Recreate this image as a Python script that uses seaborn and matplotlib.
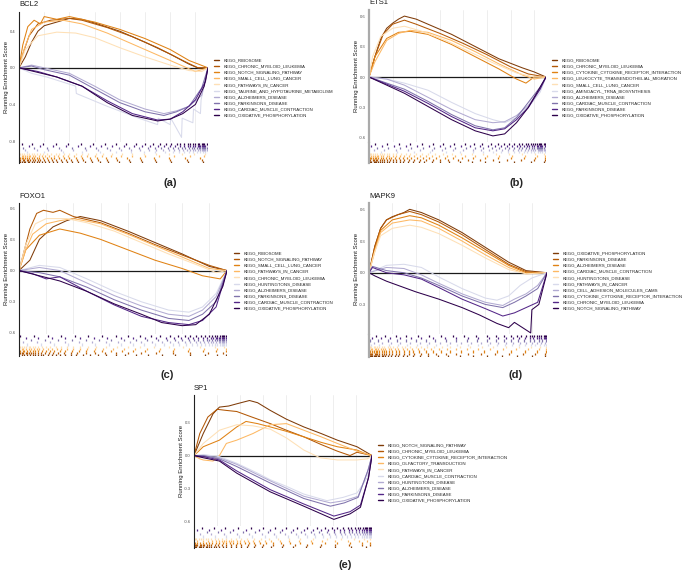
import matplotlib
matplotlib.use("Agg")
import matplotlib.pyplot as plt
from matplotlib.lines import Line2D
import seaborn as sns
import pandas as pd

sns.set_theme(style="white")
plt.rcParams['font.family'] = ['Liberation Sans', 'DejaVu Sans']

PALETTE = ["#7F3B08", "#B35806", "#E08214", "#FDB863", "#FEE0B6",
           "#D8DAEB", "#B2ABD2", "#8073AC", "#542788", "#2D004B"]
HIT_UNIT = 100  # hit positions are given in hundreds of ranked genes

# ---------------- (a) BCL2 ----------------
A_GENE = "BCL2"
A_N = 15000
A_SETS = ["KEGG_RIBOSOME", "KEGG_CHRONIC_MYELOID_LEUKEMIA", "KEGG_NOTCH_SIGNALING_PATHWAY",
          "KEGG_SMALL_CELL_LUNG_CANCER", "KEGG_PATHWAYS_IN_CANCER",
          "KEGG_TAURINE_AND_HYPOTAURINE_METABOLISM", "KEGG_ALZHEIMERS_DISEASE",
          "KEGG_PARKINSONS_DISEASE", "KEGG_CARDIAC_MUSCLE_CONTRACTION",
          "KEGG_OXIDATIVE_PHOSPHORYLATION"]
A_CURVES = [
    [(0,0),(500,0.12),(1000,0.28),(1500,0.40),(2000,0.46),(3000,0.50),(4000,0.54),(5000,0.53),(6000,0.49),(8000,0.40),(10000,0.28),(12000,0.15),(13500,0.04),(14200,0.0),(15000,0)],
    [(0,0),(300,0.15),(800,0.35),(1500,0.48),(2500,0.52),(4000,0.54),(5000,0.52),(7000,0.44),(9000,0.34),(11000,0.22),(13000,0.08),(14200,0.0),(15000,0)],
    [(0,0),(300,0.25),(700,0.45),(1200,0.52),(1700,0.48),(2000,0.56),(3000,0.53),(4000,0.56),(6000,0.50),(8000,0.42),(10000,0.32),(12000,0.20),(13500,0.08),(15000,0)],
    [(0,0),(400,0.2),(1000,0.42),(2000,0.5),(3500,0.52),(5000,0.48),(7000,0.38),(9000,0.26),(11000,0.14),(13000,0.02),(14000,-0.04),(15000,0)],
    [(0,0),(500,0.2),(1500,0.35),(3000,0.39),(4500,0.38),(6000,0.33),(8000,0.22),(10000,0.12),(12000,0.03),(13500,-0.03),(14500,-0.04),(15000,0)],
    [(0,0),(1000,-0.06),(2200,-0.1),(4500,-0.2),(4550,-0.28),(7000,-0.42),(9500,-0.55),(11000,-0.62),(11050,-0.55),(12000,-0.62),(12050,-0.55),(12900,-0.76),(12950,-0.55),(13800,-0.6),(13850,-0.45),(14400,-0.5),(14450,-0.35),(15000,0)],
    [(0,0),(1000,0.03),(2000,0.0),(4000,-0.06),(6000,-0.2),(8000,-0.35),(10000,-0.45),(11500,-0.5),(12500,-0.47),(13500,-0.42),(14500,-0.3),(15000,0)],
    [(0,0),(1000,0.02),(2000,-0.02),(4000,-0.08),(6000,-0.23),(8000,-0.38),(10000,-0.48),(11500,-0.52),(12500,-0.48),(13500,-0.42),(14500,-0.22),(15000,0)],
    [(0,0),(1500,-0.04),(3000,-0.1),(5000,-0.2),(7000,-0.36),(9000,-0.5),(11000,-0.57),(12000,-0.56),(13000,-0.48),(14000,-0.35),(14800,-0.15),(15000,0)],
    [(0,0),(1500,-0.05),(3000,-0.1),(5000,-0.2),(7000,-0.38),(9000,-0.52),(11000,-0.58),(12000,-0.56),(13000,-0.5),(14000,-0.4),(14700,-0.2),(15000,0)],
]
A_HITS = [
    [1,2,4,5,7,8,10,12,14,16,18,21,24,27,30,34,38,42,47,52,58,64,71,79,88,98,109,121,134,146],
    [0,1,3,4,6,7,9,11,13,15,17,20,23,26,29,33,37,41,46,51,57,63,70,78,87,97,108,120,133,145],
    [0,1,2,3,5,6,8,10,12,14,16,19,22,25,28,32,36,40,45,50,56,62,69,77,86,96,107,119,132,144],
    [0,2,3,5,6,8,9,11,13,16,18,21,24,28,31,35,39,44,49,54,60,66,73,81,90,100,111,123,136,147],
    [1,2,4,6,8,10,12,14,17,19,22,25,29,32,36,40,45,50,55,61,67,74,82,90,99,109,119,129,139,148],
    [6,20,35,50,64,77,89,99,108,116,122,127,131,135,138,141,144,146,148,150],
    [5,14,23,33,43,53,63,72,81,89,96,103,109,114,119,123,127,130,133,136,138,140,142,144,145,146,147,148,149,150],
    [3,12,22,32,42,52,61,70,79,87,95,102,108,113,118,122,126,129,132,135,137,139,141,143,144,145,146,147,148,149],
    [8,17,27,37,47,56,65,74,83,91,98,104,110,115,120,124,128,131,134,136,138,140,142,143,144,145,146,147,148,150],
    [2,10,19,29,39,49,59,68,77,85,93,100,106,112,117,121,125,128,131,134,136,138,140,142,143,145,146,147,149,150],
]
A_YTICKS = [-0.8, -0.4, 0.0, 0.4]

# ---------------- (b) ETS1 ----------------
B_GENE = "ETS1"
B_N = 15000
B_SETS = ["KEGG_RIBOSOME", "KEGG_CHRONIC_MYELOID_LEUKEMIA",
          "KEGG_CYTOKINE_CYTOKINE_RECEPTOR_INTERACTION",
          "KEGG_LEUKOCYTE_TRANSENDOTHELIAL_MIGRATION", "KEGG_SMALL_CELL_LUNG_CANCER",
          "KEGG_AMINOACYL_TRNA_BIOSYNTHESIS", "KEGG_ALZHEIMERS_DISEASE",
          "KEGG_CARDIAC_MUSCLE_CONTRACTION", "KEGG_PARKINSONS_DISEASE",
          "KEGG_OXIDATIVE_PHOSPHORYLATION"]
B_CURVES = [
    [(0,0),(500,0.2),(1000,0.38),(1500,0.48),(2000,0.53),(2500,0.57),(3000,0.60),(4000,0.57),(5000,0.52),(7000,0.42),(9000,0.30),(11000,0.18),(13000,0.09),(14000,0.05),(15000,0)],
    [(0,0),(500,0.2),(1200,0.42),(2000,0.52),(3000,0.56),(4000,0.52),(6000,0.43),(8000,0.33),(10000,0.22),(12000,0.1),(13500,0.03),(15000,0)],
    [(0,0),(500,0.2),(1500,0.38),(2500,0.44),(3500,0.45),(5000,0.42),(7000,0.32),(9000,0.20),(11000,0.08),(12500,-0.02),(13300,-0.06),(14000,0.0),(15000,0)],
    [(0,0),(500,0.15),(1500,0.36),(2500,0.43),(3500,0.46),(5000,0.44),(7000,0.36),(9000,0.25),(11000,0.13),(13000,0.02),(14000,-0.02),(15000,0)],
    [(0,0),(300,0.2),(1000,0.4),(2000,0.48),(3000,0.5),(4500,0.45),(6500,0.36),(8500,0.25),(10500,0.14),(12500,0.04),(14000,0.0),(15000,0)],
    [(0,0),(1500,-0.02),(3000,-0.06),(5000,-0.13),(7000,-0.25),(9000,-0.36),(10500,-0.42),(11500,-0.45),(12500,-0.4),(13500,-0.3),(14500,-0.15),(15000,0)],
    [(0,0),(1500,-0.02),(3000,-0.08),(5000,-0.2),(7000,-0.32),(9000,-0.42),(10500,-0.45),(11500,-0.44),(12500,-0.38),(13500,-0.28),(14500,-0.12),(15000,0)],
    [(0,0),(1500,-0.06),(3000,-0.12),(5000,-0.24),(7000,-0.37),(9000,-0.48),(10500,-0.52),(11500,-0.5),(12500,-0.4),(13500,-0.25),(14500,-0.1),(15000,0)],
    [(0,0),(1500,-0.07),(3000,-0.14),(5000,-0.26),(7000,-0.39),(9000,-0.5),(10500,-0.53),(11500,-0.51),(12500,-0.42),(13500,-0.3),(14500,-0.12),(15000,0)],
    [(0,0),(1500,-0.08),(3000,-0.16),(5000,-0.29),(7000,-0.42),(9000,-0.53),(10500,-0.58),(11500,-0.56),(12500,-0.45),(13500,-0.3),(14500,-0.1),(15000,0)],
]
B_HITS = [
    [0,1,2,4,5,6,8,9,11,13,15,17,20,23,26,29,33,37,42,47,53,60,68,77,87,98,110,123,137,148],
    [0,1,3,4,6,7,9,11,13,15,18,20,23,26,30,34,38,43,48,54,60,67,75,84,94,105,117,129,140,149],
    [1,2,3,5,6,8,10,12,14,17,19,22,25,29,32,36,41,46,51,57,64,71,79,88,98,109,120,131,141,149],
    [0,2,3,5,7,8,10,12,15,17,20,23,26,30,34,38,43,48,53,59,66,73,81,90,100,110,121,132,142,149],
    [0,1,2,3,5,7,9,11,13,15,17,20,23,27,31,35,40,45,50,56,63,70,78,87,97,108,119,130,141,148],
    [10,24,38,52,65,77,88,97,105,112,118,123,127,131,134,137,140,143,145,147,149],
    [4,13,23,33,43,53,62,71,80,88,95,102,108,113,118,122,126,129,132,135,137,139,141,143,144,145,146,147,148,149],
    [7,16,26,36,46,55,64,73,82,90,97,104,110,115,119,123,127,130,133,136,138,140,142,143,144,145,146,147,148,150],
    [2,11,21,31,41,51,60,69,78,86,94,101,107,112,117,121,125,128,131,134,136,138,140,142,143,145,146,147,149,150],
    [5,15,25,35,45,54,63,72,81,89,96,103,109,114,119,123,127,130,133,135,137,139,141,142,144,145,146,148,149,150],
]
B_YTICKS = [-0.6, -0.3, 0.0, 0.3, 0.6]

# ---------------- (c) FOXO1 ----------------
C_GENE = "FOXO1"
C_N = 15300
C_SETS = ["KEGG_RIBOSOME", "KEGG_NOTCH_SIGNALING_PATHWAY", "KEGG_SMALL_CELL_LUNG_CANCER",
          "KEGG_PATHWAYS_IN_CANCER", "KEGG_CHRONIC_MYELOID_LEUKEMIA",
          "KEGG_HUNTINGTONS_DISEASE", "KEGG_ALZHEIMERS_DISEASE", "KEGG_PARKINSONS_DISEASE",
          "KEGG_CARDIAC_MUSCLE_CONTRACTION", "KEGG_OXIDATIVE_PHOSPHORYLATION"]
C_CURVES = [
    [(0,0),(800,0.1),(1500,0.3),(2500,0.42),(3500,0.48),(4500,0.52),(6000,0.48),(8000,0.38),(10000,0.27),(12000,0.16),(14000,0.04),(15300,0)],
    [(0,0),(300,0.15),(800,0.4),(1300,0.55),(1800,0.58),(2500,0.56),(3000,0.58),(4000,0.52),(6000,0.46),(8000,0.36),(10000,0.25),(12000,0.15),(14000,0.05),(15300,0)],
    [(0,0),(500,0.2),(1500,0.34),(3000,0.4),(4500,0.36),(6000,0.3),(8000,0.2),(10000,0.1),(12000,0.02),(13500,-0.05),(14800,-0.08),(15300,0)],
    [(0,0),(500,0.2),(1000,0.35),(2000,0.45),(3000,0.48),(4000,0.5),(6000,0.45),(8000,0.35),(10000,0.24),(12000,0.13),(14000,0.02),(15300,0)],
    [(0,0),(500,0.25),(1200,0.45),(2000,0.5),(3500,0.5),(5000,0.46),(7000,0.38),(9000,0.27),(11000,0.16),(13000,0.06),(14500,-0.02),(15300,0)],
    [(0,0),(1500,0.05),(3000,0.03),(5000,-0.08),(7000,-0.2),(9000,-0.3),(11000,-0.38),(12500,-0.4),(13500,-0.35),(14500,-0.22),(15300,0)],
    [(0,0),(1500,0.03),(3000,0.0),(5000,-0.12),(7000,-0.24),(9000,-0.34),(11000,-0.42),(12500,-0.44),(13500,-0.38),(14500,-0.25),(15300,0)],
    [(0,0),(1500,-0.02),(3000,-0.06),(5000,-0.16),(7000,-0.28),(9000,-0.38),(11000,-0.46),(12500,-0.48),(13500,-0.42),(14500,-0.3),(15300,0)],
    [(0,0),(1000,-0.03),(2000,-0.08),(3000,-0.06),(5000,-0.2),(7000,-0.33),(9000,-0.44),(11000,-0.5),(12500,-0.52),(13500,-0.48),(14500,-0.35),(15300,0)],
    [(0,0),(1500,-0.05),(3000,-0.1),(5000,-0.2),(7000,-0.32),(9000,-0.42),(10500,-0.5),(12000,-0.53),(13000,-0.52),(14000,-0.42),(15000,-0.15),(15300,0)],
]
C_HITS = [
    [2,4,6,8,10,12,14,16,18,21,24,27,30,34,38,42,47,52,58,64,71,78,86,95,105,115,126,137,146,152],
    [0,1,2,3,5,6,7,9,10,12,14,16,19,22,25,29,33,38,43,49,56,63,71,80,90,101,113,126,139,150],
    [0,1,3,4,6,8,10,12,14,17,20,23,26,30,34,39,44,49,55,61,68,76,84,93,103,113,124,135,145,152],
    [0,2,3,5,7,9,11,13,15,18,21,24,28,31,35,40,45,50,56,62,69,77,85,94,104,114,125,136,146,152],
    [0,1,2,4,5,7,8,10,12,14,17,20,23,27,31,35,40,45,51,57,64,72,80,89,99,110,121,133,144,151],
    [6,16,26,36,46,56,66,75,84,92,100,107,113,118,123,127,131,134,137,140,142,144,146,148,149,150,151,152],
    [3,13,23,34,44,54,64,73,82,90,98,105,111,117,122,126,130,133,136,139,141,143,145,147,148,149,150,151,152],
    [9,19,29,39,49,59,68,77,86,94,102,109,115,120,125,129,132,135,138,140,142,144,146,147,148,149,150,151,152],
    [5,14,24,34,45,55,65,75,84,93,101,108,114,119,124,128,132,135,138,141,143,145,146,147,148,149,150,151,152],
    [1,11,21,31,41,51,61,71,80,89,97,104,111,117,122,126,130,134,137,140,142,144,146,148,149,150,151,152],
]
C_YTICKS = [-0.6, -0.3, 0.0, 0.3, 0.6]

# ---------------- (d) MAPK9 ----------------
D_GENE = "MAPK9"
D_N = 15300
D_SETS = ["KEGG_OXIDATIVE_PHOSPHORYLATION", "KEGG_PARKINSONS_DISEASE", "KEGG_ALZHEIMERS_DISEASE",
          "KEGG_CARDIAC_MUSCLE_CONTRACTION", "KEGG_HUNTINGTONS_DISEASE", "KEGG_PATHWAYS_IN_CANCER",
          "KEGG_CELL_ADHESION_MOLECULES_CAMS", "KEGG_CYTOKINE_CYTOKINE_RECEPTOR_INTERACTION",
          "KEGG_CHRONIC_MYELOID_LEUKEMIA", "KEGG_NOTCH_SIGNALING_PATHWAY"]
D_CURVES = [
    [(0,0),(500,0.25),(1000,0.42),(1500,0.5),(2000,0.53),(3000,0.57),(3500,0.6),(4500,0.57),(6000,0.5),(8000,0.38),(10000,0.24),(12000,0.1),(13500,0.02),(15300,0)],
    [(0,0),(500,0.25),(1000,0.42),(1500,0.5),(2500,0.55),(3500,0.58),(4500,0.55),(6000,0.48),(8000,0.36),(10000,0.22),(12000,0.08),(13500,0.01),(15300,0)],
    [(0,0),(500,0.22),(1000,0.4),(2000,0.5),(3500,0.54),(4500,0.52),(6000,0.45),(8000,0.33),(10000,0.2),(12000,0.07),(13500,0.0),(15300,0)],
    [(0,0),(500,0.2),(1000,0.38),(2000,0.47),(3500,0.5),(4500,0.49),(6000,0.42),(8000,0.3),(10000,0.17),(12000,0.05),(13500,-0.01),(15300,0)],
    [(0,0),(500,0.2),(1000,0.35),(2000,0.42),(3500,0.45),(4500,0.43),(6000,0.37),(8000,0.26),(10000,0.14),(12000,0.03),(13500,-0.01),(15300,0)],
    [(0,0),(1500,0.07),(3000,0.08),(4500,0.05),(6000,-0.04),(8000,-0.15),(10000,-0.24),(11000,-0.26),(12000,-0.22),(13000,-0.12),(14000,-0.05),(15300,0)],
    [(0,0),(1500,0.05),(3000,0.04),(4500,-0.02),(6000,-0.1),(8000,-0.2),(10000,-0.28),(11500,-0.31),(12500,-0.25),(13500,-0.2),(14500,-0.12),(15300,0)],
    [(0,0),(300,0.06),(1500,0.02),(3000,0.0),(4500,-0.05),(6000,-0.12),(8000,-0.22),(10000,-0.3),(11500,-0.33),(12500,-0.28),(13500,-0.22),(14500,-0.15),(15300,0)],
    [(0,0),(300,0.05),(1500,0.0),(3000,-0.02),(4500,-0.06),(6000,-0.14),(8000,-0.25),(10000,-0.34),(11500,-0.41),(12500,-0.38),(13500,-0.33),(14500,-0.28),(15300,0)],
    [(0,0),(500,-0.03),(1500,-0.08),(2500,-0.12),(4000,-0.18),(6000,-0.25),(8000,-0.33),(9500,-0.4),(11000,-0.48),(12000,-0.52),(12500,-0.47),(13200,-0.52),(13900,-0.57),(14000,-0.35),(14600,-0.3),(15300,0)],
]
D_HITS = [
    [0,1,2,3,4,5,6,8,9,11,12,14,16,19,22,25,29,33,38,44,51,59,68,78,89,101,114,127,140,151],
    [0,1,2,3,5,6,7,9,11,13,15,17,20,23,26,30,34,39,45,51,58,66,75,85,96,108,120,132,143,151],
    [0,1,3,4,6,7,9,11,13,15,17,20,23,26,30,34,38,43,49,55,62,70,79,89,99,110,122,134,144,152],
    [0,2,3,5,6,8,10,12,14,17,19,22,25,29,33,37,42,47,53,60,67,75,84,94,104,115,126,137,146,152],
    [1,2,4,5,7,9,11,13,16,18,21,24,28,31,35,40,45,50,56,63,70,78,87,97,107,118,129,139,147,152],
    [2,9,17,25,33,41,50,58,67,76,85,94,102,110,117,123,129,134,139,143,147,150,152],
    [4,11,19,27,35,44,52,61,70,79,88,96,104,111,118,124,130,135,140,144,148,151],
    [1,8,16,24,32,40,49,57,66,75,84,93,101,109,116,122,128,133,138,142,146,149,152],
    [3,10,18,27,36,45,55,65,75,85,94,103,111,118,124,129,134,138,141,144,146,148,150,151,152],
    [6,14,23,32,42,52,62,72,82,92,101,109,116,122,127,131,135,138,140,142,144,146,148,150,151,152],
]
D_YTICKS = [-0.3, 0.0, 0.3, 0.6]

# ---------------- (e) SP1 ----------------
E_GENE = "SP1"
E_N = 15400
E_SETS = ["KEGG_NOTCH_SIGNALING_PATHWAY", "KEGG_CHRONIC_MYELOID_LEUKEMIA",
          "KEGG_CYTOKINE_CYTOKINE_RECEPTOR_INTERACTION", "KEGG_OLFACTORY_TRANSDUCTION",
          "KEGG_PATHWAYS_IN_CANCER", "KEGG_CARDIAC_MUSCLE_CONTRACTION",
          "KEGG_HUNTINGTONS_DISEASE", "KEGG_ALZHEIMERS_DISEASE", "KEGG_PARKINSONS_DISEASE",
          "KEGG_OXIDATIVE_PHOSPHORYLATION"]
E_CURVES = [
    [(0,0),(800,0.2),(1650,0.38),(2200,0.44),(3000,0.45),(3700,0.47),(4800,0.5),(5500,0.48),(6600,0.41),(8000,0.33),(9500,0.26),(11000,0.2),(12400,0.14),(14100,0.08),(15400,0)],
    [(0,0),(500,0.2),(1200,0.35),(2000,0.42),(2800,0.41),(3700,0.4),(5000,0.35),(6600,0.29),(8000,0.23),(9500,0.17),(11000,0.1),(12400,0.04),(13500,0.0),(14100,0.03),(15400,0)],
    [(0,0),(800,0.08),(2200,0.14),(3700,0.26),(4500,0.31),(5500,0.29),(6600,0.26),(8000,0.22),(9500,0.17),(11000,0.12),(12400,0.08),(14100,0.05),(15000,0.01),(15400,0)],
    [(0,0),(500,-0.03),(800,-0.04),(1650,-0.05),(2200,0.0),(2800,0.11),(3700,0.14),(5100,0.2),(6600,0.28),(8000,0.29),(9500,0.23),(11000,0.17),(12400,0.11),(14100,0.04),(15400,0)],
    [(0,0),(800,0.11),(2200,0.23),(3700,0.28),(5100,0.27),(6600,0.24),(8000,0.16),(9500,0.05),(10900,-0.02),(12400,-0.04),(14100,-0.04),(15000,-0.03),(15400,0)],
    [(0,0),(800,0.01),(2200,-0.01),(3700,-0.07),(5500,-0.16),(6600,-0.22),(8000,-0.28),(9500,-0.35),(11500,-0.41),(12900,-0.38),(14100,-0.34),(15000,-0.2),(15400,0)],
    [(0,0),(800,0.0),(2200,-0.02),(3700,-0.08),(6600,-0.23),(9500,-0.37),(11800,-0.43),(13000,-0.41),(14200,-0.37),(15000,-0.15),(15400,0)],
    [(0,0),(800,0.0),(2200,-0.03),(3700,-0.1),(6600,-0.25),(9500,-0.39),(11800,-0.46),(13000,-0.43),(14200,-0.38),(15100,-0.12),(15400,0)],
    [(0,0),(800,-0.01),(2200,-0.04),(3700,-0.14),(6600,-0.31),(9500,-0.44),(12100,-0.55),(13500,-0.51),(14400,-0.45),(15100,-0.2),(15400,0)],
    [(0,0),(800,-0.02),(2200,-0.05),(3700,-0.16),(6600,-0.33),(9500,-0.46),(12100,-0.58),(13500,-0.53),(14400,-0.47),(15100,-0.2),(15400,0)],
]
E_HITS = [
    [0,1,2,4,5,6,8,10,11,13,15,17,19,22,25,28,32,36,41,46,52,59,67,76,86,97,109,122,136,149],
    [0,1,2,3,5,6,8,9,11,13,15,18,21,24,28,32,36,41,47,53,60,68,77,87,98,110,122,134,145,152],
    [1,3,5,8,10,13,16,19,22,25,28,31,34,37,40,44,48,52,57,62,68,75,83,92,102,113,124,135,145,152],
    [3,8,12,16,19,22,24,26,28,30,32,34,37,40,43,47,51,56,61,67,74,82,91,101,111,122,133,143,150],
    [0,1,2,4,6,8,10,12,15,18,21,24,28,32,36,41,46,52,58,65,73,82,92,103,115,127,138,147,152],
    [8,18,28,39,50,61,71,81,90,98,105,112,118,123,128,132,136,139,142,145,147,149,150,151,152,153],
    [5,15,26,37,48,59,69,79,88,96,104,111,117,122,127,131,135,138,141,144,146,148,150,151,152,153],
    [11,21,31,42,53,64,74,84,93,101,108,115,121,126,130,134,137,140,143,145,147,149,150,151,152,153],
    [3,13,23,34,45,56,66,76,86,95,103,110,116,121,126,130,134,137,140,143,145,147,149,150,151,152,153],
    [7,17,27,38,49,60,70,80,89,98,106,113,119,124,129,133,136,139,142,144,146,148,149,150,151,152,153],
]
E_YTICKS = [-0.6, -0.3, 0.0, 0.3]

# ---------------- layout (pixels) ----------------
W, H = 685, 573
fig = plt.figure(figsize=(6.85, 5.73), dpi=100)

PANELS = [
    dict(gene=A_GENE, n=A_N, sets=A_SETS, curves=A_CURVES, hits=A_HITS, yticks=A_YTICKS,
         ylim=(-0.81, 0.61), box=(19, 208, 12, 142), rug=(143, 163), leg=(214, 88),
         label="(a)", lpos=(170, 183), spine=("#222222", 0.8)),
    dict(gene=B_GENE, n=B_N, sets=B_SETS, curves=B_CURVES, hits=B_HITS, yticks=B_YTICKS,
         ylim=(-0.64, 0.66), box=(369, 546, 10, 142), rug=(143, 163), leg=(552, 88),
         label="(b)", lpos=(517, 183), spine=("#aaaaaa", 1.6)),
    dict(gene=C_GENE, n=C_N, sets=C_SETS, curves=C_CURVES, hits=C_HITS, yticks=C_YTICKS,
         ylim=(-0.61, 0.65), box=(19, 227, 203, 334), rug=(335, 356), leg=(234, 281),
         label="(c)", lpos=(167, 375), spine=("#222222", 0.8)),
    dict(gene=D_GENE, n=D_N, sets=D_SETS, curves=D_CURVES, hits=D_HITS, yticks=D_YTICKS,
         ylim=(-0.58, 0.66), box=(369, 547, 203, 334), rug=(335, 357), leg=(553, 281),
         label="(d)", lpos=(516, 375), spine=("#aaaaaa", 1.6)),
    dict(gene=E_GENE, n=E_N, sets=E_SETS, curves=E_CURVES, hits=E_HITS, yticks=E_YTICKS,
         ylim=(-0.64, 0.55), box=(194, 372, 395, 526), rug=(527, 548), leg=(378, 473),
         label="(e)", lpos=(345, 565), spine=("#222222", 0.8)),
]


def fig_rect(x0, x1, y0, y1):
    return [x0 / W, 1 - y1 / H, (x1 - x0) / W, (y1 - y0) / H]


for p in PANELS:
    x0, x1, y0, y1 = p["box"]
    ax = fig.add_axes(fig_rect(x0, x1, y0, y1))
    rows = []
    for name, pts in zip(p["sets"], p["curves"]):
        for r, es in pts:
            rows.append({"rank": r, "es": es, "set": name})
    df = pd.DataFrame(rows)
    ax.axhline(0, color="#1a1a1a", lw=0.9, zorder=1)
    sns.lineplot(data=df, x="rank", y="es", hue="set", hue_order=p["sets"],
                 palette=PALETTE, sort=False, estimator=None, legend=False,
                 lw=0.75, ax=ax, zorder=2)
    ax.set_xlim(0, p["n"])
    ax.set_ylim(*p["ylim"])
    ax.set_xticks(list(range(2000, p["n"], 2000)))
    ax.grid(axis="x", color="#ebebeb", lw=0.6)
    ax.grid(axis="y", visible=False)
    ax.set_yticks(p["yticks"])
    ax.set_yticklabels([f"{v:.1f}" for v in p["yticks"]])
    ax.tick_params(axis="y", labelsize=3, colors="#4d4d4d", length=1.5, width=0.4, pad=1)
    ax.tick_params(axis="x", length=0, labelbottom=False)
    ax.set_xlabel("")
    ax.set_ylabel("Running Enrichment Score", fontsize=4.3, color="#1a1a1a")
    ax.yaxis.set_label_coords(-10 / (x1 - x0), 0.5)
    for s in ("top", "right", "bottom"):
        ax.spines[s].set_visible(False)
    ax.spines["left"].set_color(p["spine"][0])
    ax.spines["left"].set_linewidth(p["spine"][1])

    # rug of hit positions
    r0, r1 = p["rug"]
    rax = fig.add_axes(fig_rect(x0, x1, r0, r1))
    for i, hits in enumerate(p["hits"]):
        rax.vlines([h * HIT_UNIT for h in hits], i, i + 1, color=PALETTE[i], lw=0.9)
    rax.set_xlim(0, p["n"])
    rax.set_ylim(0, len(p["hits"]))
    rax.set_xticks([])
    rax.set_yticks([])
    for s in ("top", "right", "bottom"):
        rax.spines[s].set_visible(False)
    rax.spines["left"].set_color(p["spine"][0])
    rax.spines["left"].set_linewidth(p["spine"][1])

    # title, legend, panel label
    fig.text(x0 / W, 1 - (y0 - 7) / H, p["gene"], fontsize=5.5, ha="left", va="center",
             color="#1a1a1a")
    handles = [Line2D([0], [0], color=c, lw=1.0) for c in PALETTE]
    lx, ly = p["leg"]
    fig.legend(handles, p["sets"], loc="center left", bbox_to_anchor=(lx / W, 1 - ly / H),
               fontsize=3.2, frameon=False, handlelength=1.1, handletextpad=1.0,
               labelspacing=0.45, borderpad=0, borderaxespad=0)
    fig.text(p["lpos"][0] / W, 1 - p["lpos"][1] / H, p["label"], fontsize=8,
             fontweight="bold", ha="center", va="center")

fig.savefig("out.png", dpi=100)
